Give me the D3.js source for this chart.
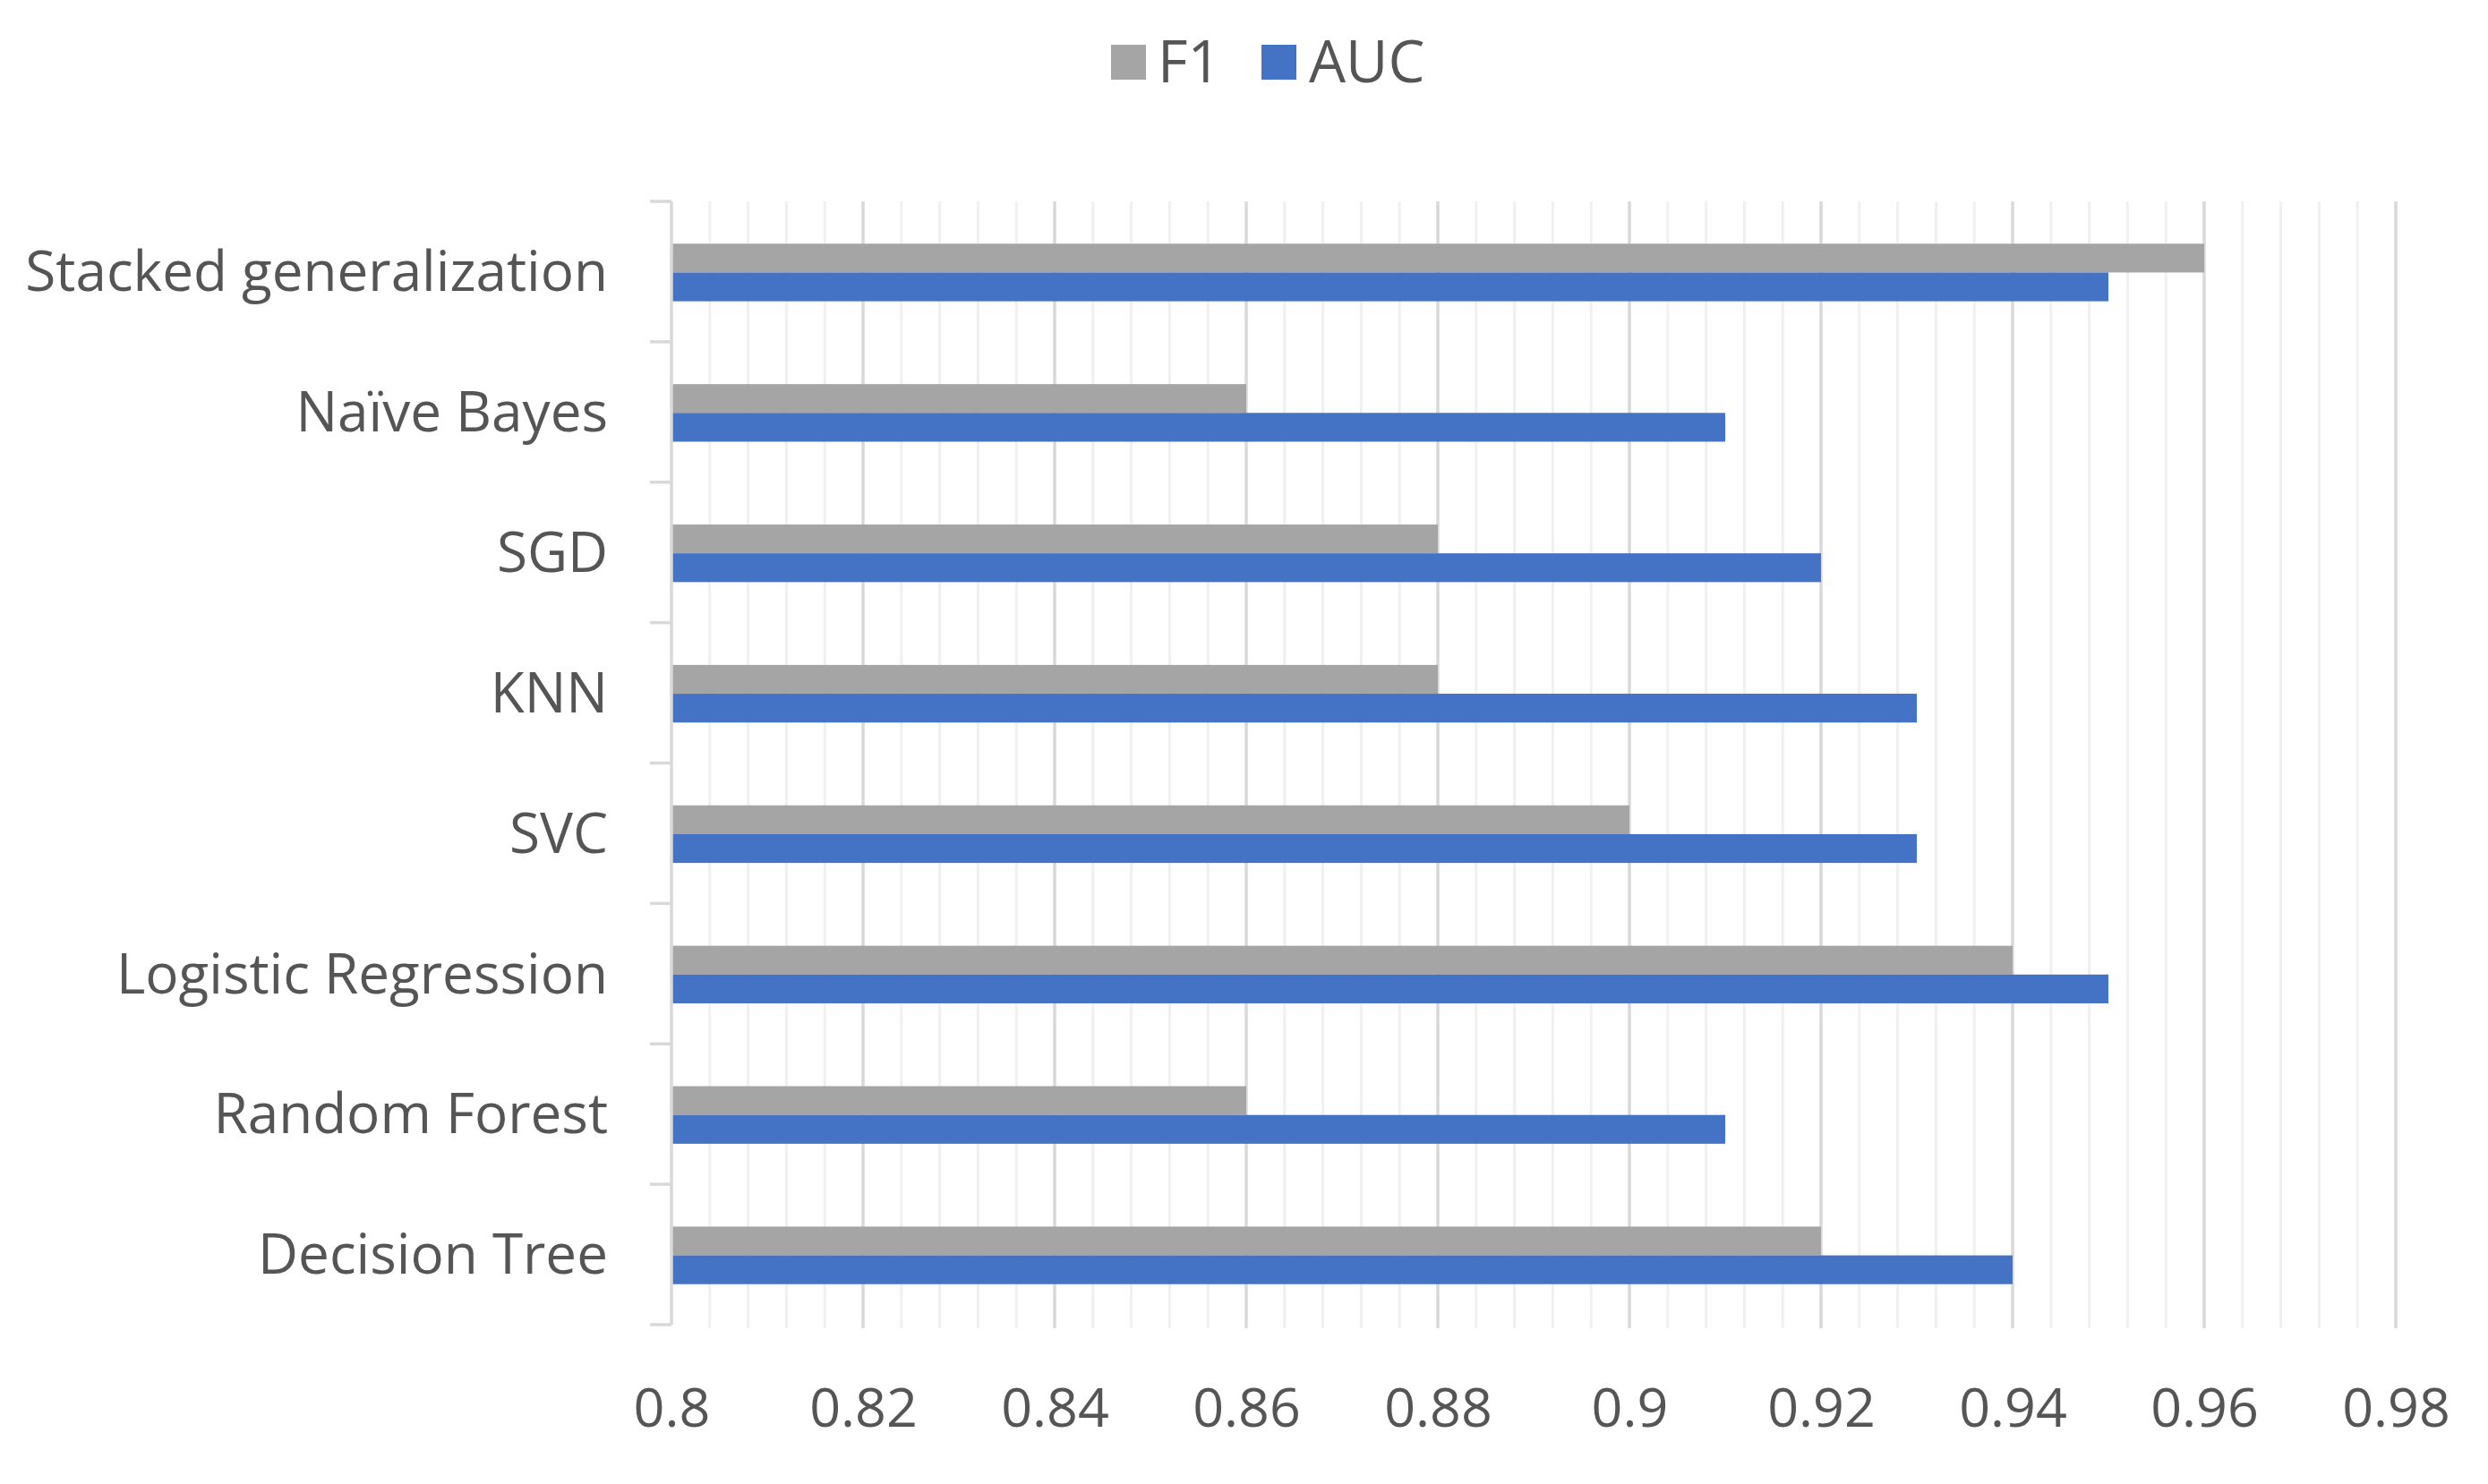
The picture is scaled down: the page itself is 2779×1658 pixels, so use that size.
<!DOCTYPE html>
<html>
<head>
<meta charset="utf-8">
<script src="https://cdn.jsdelivr.net/npm/d3@7"></script>
<style>
  html, body { margin: 0; padding: 0; background: #ffffff; }
  svg { display: block; }
</style>
</head>
<body>
<svg id="chart" width="2779" height="1658"></svg>
<script>
// ---- data ----
const categories = [
  "Stacked generalization",
  "Naïve Bayes",
  "SGD",
  "KNN",
  "SVC",
  "Logistic Regression",
  "Random Forest",
  "Decision Tree"
];
const seriesNames = ["F1", "AUC"];
const f1Values  = [0.96, 0.86, 0.88, 0.88, 0.90, 0.94, 0.86, 0.92];
const aucValues = [0.95, 0.91, 0.92, 0.93, 0.93, 0.95, 0.91, 0.94];
const tickValues = [0.8, 0.82, 0.84, 0.86, 0.88, 0.9, 0.92, 0.94, 0.96, 0.98];
const tickLabels = ["0.8", "0.82", "0.84", "0.86", "0.88", "0.9", "0.92", "0.94", "0.96", "0.98"];

// ---- layout ----
const W = 2779, H = 1658;
const plot = { left: 750, right: 2676, top: 225, bottom: 1480 };
const colors = { F1: "#a5a5a5", AUC: "#4472c4" };
const textColor = "#555555";
const fontFamily = "'Open Sans', sans-serif";

const svg = d3.select("#chart");
svg.append("rect").attr("width", W).attr("height", H).attr("fill", "#ffffff");

const x = d3.scaleLinear().domain([0.8, 0.98]).range([plot.left, plot.right]);
const y = d3.scaleBand().domain(categories).range([plot.top, plot.bottom]).padding(0);

// minor gridlines (major/5)
const minorStep = 0.004;
const minorVals = d3.range(0, 46).map(i => +(0.8 + i * minorStep).toFixed(4))
  .filter(v => tickValues.every(t => Math.abs(t - v) > 1e-6));
svg.append("g").selectAll("line").data(minorVals).join("line")
  .attr("x1", d => x(d)).attr("x2", d => x(d))
  .attr("y1", plot.top).attr("y2", plot.bottom + 4)
  .attr("stroke", "#f0f0f0").attr("stroke-width", 3);

// major gridlines
svg.append("g").selectAll("line").data(tickValues.slice(1)).join("line")
  .attr("x1", d => x(d)).attr("x2", d => x(d))
  .attr("y1", plot.top).attr("y2", plot.bottom + 4)
  .attr("stroke", "#d9d9d9").attr("stroke-width", 3.5);

// bars
const barH = y.bandwidth() * 0.205;
const rows = categories.map((c, i) => ({ cat: c, F1: f1Values[i], AUC: aucValues[i] }));
const gBars = svg.append("g");
seriesNames.forEach((s, si) => {
  gBars.append("g").selectAll("rect").data(rows).join("rect")
    .attr("x", x(0.8))
    .attr("y", d => y(d.cat) + y.bandwidth() / 2 + 1 - barH + si * barH)
    .attr("width", d => x(d[s]) - x(0.8))
    .attr("height", barH)
    .attr("fill", colors[s]);
});

// left axis line and category tick marks
svg.append("line")
  .attr("x1", plot.left).attr("x2", plot.left)
  .attr("y1", plot.top).attr("y2", plot.bottom)
  .attr("stroke", "#d9d9d9").attr("stroke-width", 3.5);
const boundaries = categories.map(c => y(c)).concat([plot.bottom]);
svg.append("g").selectAll("line").data(boundaries).join("line")
  .attr("x1", plot.left - 24).attr("x2", plot.left)
  .attr("y1", d => d).attr("y2", d => d)
  .attr("stroke", "#d9d9d9").attr("stroke-width", 3.5);

// category labels via axis
const yAxis = d3.axisLeft(y).tickSize(0).tickPadding(0);
const gy = svg.append("g").attr("transform", `translate(${679},0)`).call(yAxis);
gy.select(".domain").remove();
gy.selectAll("text")
  .attr("font-family", fontFamily).attr("font-size", 62)
  .attr("fill", textColor).attr("dy", "0.35em");

// x tick labels via axis
const xAxis = d3.axisBottom(x).tickValues(tickValues)
  .tickFormat((d, i) => tickLabels[i]).tickSize(0).tickPadding(0);
const gx = svg.append("g").attr("transform", `translate(0,${1573})`).call(xAxis);
gx.select(".domain").remove();
gx.selectAll("text")
  .attr("font-family", fontFamily).attr("font-size", 61)
  .attr("fill", textColor).attr("dy", "0.35em");

// legend
const legend = svg.append("g");
const legendItems = [
  { name: "F1", sx: 1241, tx: 1293 },
  { name: "AUC", sx: 1409, tx: 1462 }
];
legendItems.forEach(it => {
  legend.append("rect").attr("x", it.sx).attr("y", 50).attr("width", 39).attr("height", 39)
    .attr("fill", colors[it.name]);
  legend.append("text").attr("x", it.tx).attr("y", 69).attr("dy", "0.35em")
    .attr("font-family", fontFamily).attr("font-size", 65).attr("fill", textColor)
    .text(it.name);
});
</script>
</body>
</html>
